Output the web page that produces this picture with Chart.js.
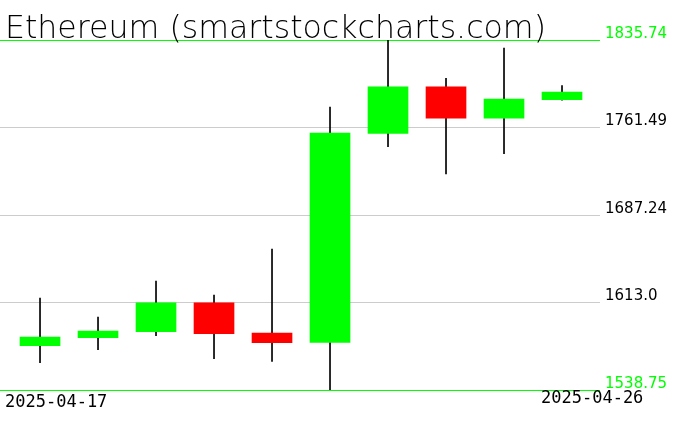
<!DOCTYPE html>
<html>
<head>
<meta charset="utf-8">
<script src="https://cdn.jsdelivr.net/npm/chart.js@4.4.1/dist/chart.umd.min.js"></script>
<style>
  html, body { margin: 0; padding: 0; background: #fff; }
  #wrap { width: 676px; height: 431px; }
</style>
</head>
<body>
<div id="wrap"><canvas id="ethChart"></canvas></div>
<script>
// dates of the candles
const dates = ['2025-04-17', '2025-04-18', '2025-04-19', '2025-04-20', '2025-04-21',
               '2025-04-22', '2025-04-23', '2025-04-24', '2025-04-25', '2025-04-26'];
// OHLC values
const opens  = [1576.3, 1583.1, 1588.2, 1612.8, 1587.1, 1579.2, 1756.5, 1795.9, 1769.5, 1785.1];
const highs  = [1616.8, 1600.7, 1631.2, 1619.3, 1658.4, 1778.9, 1835.74, 1803.2, 1828.9, 1797.0];
const lows   = [1561.9, 1572.9, 1584.8, 1565.3, 1563.1, 1538.75, 1745.2, 1722.0, 1739.2, 1784.6];
const closes = [1583.7, 1588.8, 1612.8, 1586.5, 1578.9, 1756.8, 1795.9, 1769.5, 1785.7, 1791.6];
// y axis ticks
const tickValues = [1538.75, 1613.0, 1687.24, 1761.49, 1835.74];
const tickLabels = ['1538.75', '1613.0', '1687.24', '1761.49', '1835.74'];

const title = 'Ethereum (smartstockcharts.com)';
const UP = '#00ff00';
const DOWN = '#ff0000';

const bodies = dates.map((d, i) => ({ x: i, y: [opens[i], closes[i]] }));
const wicks = dates.map((d, i) => ({ x: i, y: [lows[i], highs[i]] }));
const colors = dates.map((d, i) => closes[i] >= opens[i] ? UP : DOWN);

// title and the two date labels are drawn on top
const textPlugin = {
    id: 'textPlugin',
    afterDraw(chart) {
        const ctx = chart.ctx;
        const area = chart.chartArea;
        ctx.save();
        ctx.fillStyle = '#000';
        ctx.font = '200 31.6px "DejaVu Sans ExtraLight", "DejaVu Sans", sans-serif';
        ctx.textBaseline = 'alphabetic';
        ctx.textAlign = 'left';
        ctx.fillText(title, 5, 38);
        ctx.font = '17px "DejaVu Sans Mono", monospace';
        ctx.textBaseline = 'top';
        ctx.fillText(dates[0], area.left + 5, area.bottom + 4);
        ctx.fillText(dates[dates.length - 1], area.right - 59, area.bottom);
        ctx.restore();
    }
};

new Chart(document.getElementById('ethChart'), {
    type: 'bar',
    data: {
        datasets: [{
            data: bodies,
            backgroundColor: colors,
            borderWidth: 0,
            barThickness: 40,
            grouped: false
        }, {
            data: wicks,
            backgroundColor: '#000',
            borderWidth: 0,
            barThickness: 1,
            grouped: false
        }]
    },
    options: {
        responsive: true,
        maintainAspectRatio: false,
        animation: false,
        layout: { padding: { top: 40, bottom: 41, left: 0, right: 0 } },
        plugins: {
            legend: { display: false },
            tooltip: { enabled: false }
        },
        scales: {
            x: {
                type: 'linear',
                offset: false,
                min: -0.69,
                max: 9.655,
                display: false
            },
            y: {
                position: 'right',
                min: 1538.75,
                max: 1835.74,
                afterBuildTicks: (scale) => {
                    scale.ticks = tickValues.map(v => ({ value: v }));
                },
                afterFit: (scale) => { scale.width = 76; },
                border: { display: false },
                grid: {
                    drawTicks: false,
                    color: (c) => (c.index === 0 || c.index === tickValues.length - 1) ? UP : '#cccccc'
                },
                ticks: {
                    padding: 5,
                    labelOffset: -6,
                    font: { family: '"DejaVu Sans", sans-serif', size: 15 },
                    color: (c) => (c.index === 0 || c.index === tickValues.length - 1) ? UP : '#000',
                    callback: (v, i) => tickLabels[i]
                }
            }
        }
    },
    plugins: [textPlugin]
});
</script>
</body>
</html>
